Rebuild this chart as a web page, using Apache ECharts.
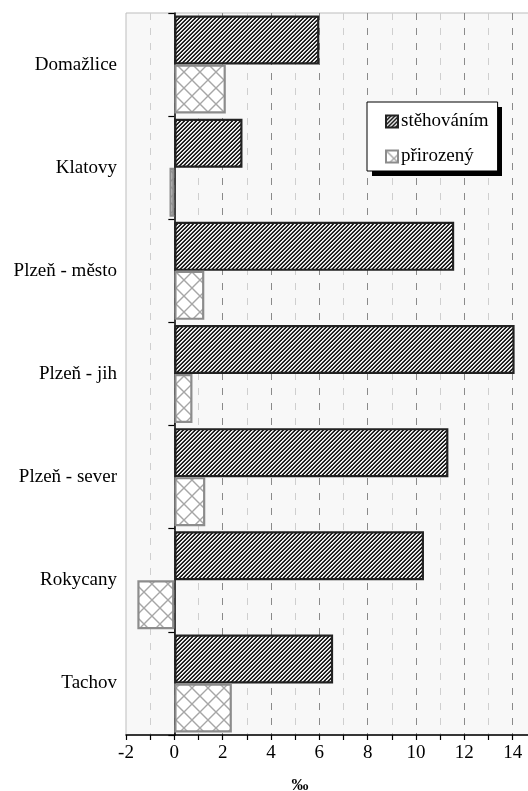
<!DOCTYPE html>
<html>
<head>
<meta charset="utf-8">
<script src="https://cdn.jsdelivr.net/npm/echarts@6/dist/echarts.min.js"></script>
<style>
html,body{margin:0;padding:0;background:#fff;}
#chart{width:528px;height:791px;}
</style>
</head>
<body>
<div id="chart"></div>
<script>
// ---- data ----
const categories = ['Domažlice', 'Klatovy', 'Plzeň - město', 'Plzeň - jih', 'Plzeň - sever', 'Rokycany', 'Tachov'];
const seriesNames = ['stěhováním', 'přirozený'];
const migration = [6.0, 2.82, 11.58, 14.08, 11.34, 10.33, 6.57];
const natural = [2.13, -0.2, 1.24, 0.75, 1.28, -1.53, 2.38];
const xMin = -2;
const xMax = 16;
const xStep = 2;
const axisUnit = '‰';

// ---- patterns ----
function stripeTile() {
  const s = 8;
  const c = document.createElement('canvas');
  c.width = s; c.height = s;
  const ctx = c.getContext('2d');
  const img = ctx.createImageData(s, s);
  const shades = [20, 45, 250, 200];
  for (let y = 0; y < s; y++) {
    for (let x = 0; x < s; x++) {
      const v = shades[(x + y) % 4];
      const i = (y * s + x) * 4;
      img.data[i] = v; img.data[i + 1] = v; img.data[i + 2] = v; img.data[i + 3] = 255;
    }
  }
  ctx.putImageData(img, 0, 0);
  return c;
}
function crossTile() {
  const s = 16;
  const c = document.createElement('canvas');
  c.width = s; c.height = s;
  const ctx = c.getContext('2d');
  ctx.fillStyle = '#ffffff';
  ctx.fillRect(0, 0, s, s);
  ctx.strokeStyle = '#a6a6a6';
  ctx.lineWidth = 1.4;
  ctx.beginPath();
  ctx.moveTo(-2, -2); ctx.lineTo(s + 2, s + 2);
  ctx.moveTo(s + 2, -2); ctx.lineTo(-2, s + 2);
  ctx.stroke();
  return c;
}
const stripePattern = { image: stripeTile(), repeat: 'repeat' };
const crossPattern = { image: crossTile(), repeat: 'repeat' };

const serif = 'Liberation Serif';
const chart = echarts.init(document.getElementById('chart'), null, { renderer: 'canvas' });
chart.setOption({
  animation: false,
  backgroundColor: '#ffffff',
  grid: {
    left: 126, top: 13, bottom: 56, right: -33,
    outerBoundsMode: 'none', containLabel: false,
    show: true, backgroundColor: '#f8f8f8', borderColor: '#bdbdbd', borderWidth: 1
  },
  graphic: [
    { type: 'rect', z: 3, shape: { x: 372, y: 107, width: 130, height: 69 }, style: { fill: '#000' } }
  ],
  legend: {
    show: true,
    z: 10,
    orient: 'vertical',
    left: 367, top: 102,
    icon: 'rect',
    itemWidth: 12, itemHeight: 12, itemGap: 16,
    padding: [10, 9, 5, 18],
    backgroundColor: '#ffffff',
    borderColor: '#000000', borderWidth: 1,
    textStyle: { fontFamily: serif, fontSize: 19, color: '#000', padding: [0, 0, 0, -2] },
    data: seriesNames
  },
  xAxis: {
    type: 'value',
    min: xMin, max: xMax, interval: xStep,
    axisLine: { show: true, onZero: false, lineStyle: { color: '#000', width: 1.5 } },
    axisTick: { show: true, length: 5, lineStyle: { color: '#000', width: 1.2 } },
    minorTick: { show: true, splitNumber: 2, length: 5, lineStyle: { color: '#000', width: 1.2 } },
    splitLine: { show: true, showMinLine: false, lineStyle: { type: [7, 8], color: '#8a8a8a', width: 1 } },
    minorSplitLine: { show: true, lineStyle: { type: [7, 8], color: '#cfcfcf', width: 1 } },
    axisLabel: { fontFamily: serif, fontSize: 19, color: '#000', margin: 9 },
    name: axisUnit, nameLocation: 'middle', nameGap: 42,
    nameTextStyle: { fontFamily: serif, fontSize: 17, fontWeight: 'bold', color: '#000', padding: [0, 87, 0, 0] }
  },
  yAxis: [
    {
      type: 'category', data: categories, inverse: true,
      axisLine: { show: false, onZero: false },
      axisTick: { show: false },
      splitLine: { show: false },
      axisLabel: { fontFamily: serif, fontSize: 19, color: '#000', margin: 9 }
    },
    {
      type: 'category', data: categories, inverse: true, position: 'left',
      axisLine: { show: true, onZero: true, lineStyle: { color: '#000', width: 1.5 } },
      axisTick: { show: true, length: 6, lineStyle: { color: '#000', width: 1.2 } },
      axisLabel: { show: false },
      splitLine: { show: false }
    }
  ],
  series: [
    {
      name: seriesNames[0], type: 'bar', yAxisIndex: 0, data: migration,
      barGap: '0%', barCategoryGap: '5%',
      itemStyle: { color: stripePattern, borderColor: '#222', borderWidth: 2.2 }
    },
    {
      name: seriesNames[1], type: 'bar', yAxisIndex: 0, data: natural,
      barGap: '0%', barCategoryGap: '5%',
      itemStyle: { color: crossPattern, borderColor: '#8c8c8c', borderWidth: 2.2 }
    }
  ]
});
</script>
</body>
</html>
